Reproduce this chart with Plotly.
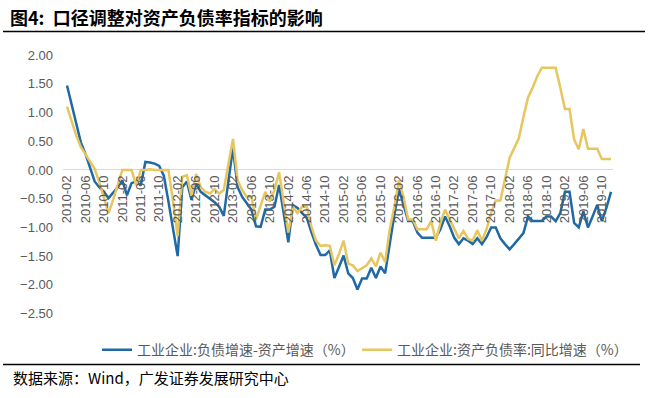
import pandas as pd
import plotly.graph_objects as go

# ---- data ----
months = pd.date_range("2010-02-01", "2019-12-01", freq="MS").strftime("%Y-%m").tolist()

debt_minus_asset = [
    1.47, 1.13, 0.80, 0.48, 0.28, 0.05, -0.20, -0.30, -0.38, -0.49,
    -0.40, -0.30, -0.18, -0.44, -0.23, -0.20, -0.27, 0.14, 0.13, 0.11,
    0.07, -0.10, -0.55, -1.02, -1.50, -0.30, -0.20, -0.52, -0.24, -0.38,
    -0.44, -0.50, -0.56, -0.64, -0.80, -0.20, 0.38, -0.30, -0.47, -0.58,
    -0.69, -0.98, -0.99, -0.69, -0.69, -0.64, -0.26, -0.75, -1.26, -0.61,
    -0.66, -0.75, -0.83, -1.08, -1.30, -1.48, -1.48, -1.40, -1.88, -1.69,
    -1.49, -1.80, -1.88, -2.08, -1.89, -1.89, -1.70, -1.88, -1.68, -1.80,
    -1.26, -0.78, -0.33, -0.62, -0.89, -0.89, -1.09, -1.18, -1.18, -1.18,
    -1.18, -1.03, -0.81, -0.98, -1.18, -1.29, -1.19, -1.23, -1.29, -1.19,
    -1.29, -1.17, -1.00, -1.00, -1.19, -1.29, -1.38, -1.29, -1.19, -1.10,
    -0.81, -0.89, -0.89, -0.89, -0.81, -0.81, -0.89, -0.75, -0.38, -0.38,
    -0.92, -1.00, -0.72, -1.00, -0.81, -0.61, -0.89, -0.66, -0.38,
]

debt_ratio_yoy = [
    1.10, 0.85, 0.60, 0.40, 0.28, 0.16, 0.02, -0.21, -0.48, -0.75,
    -0.52, -0.24, 0.00, 0.00, 0.00, -0.27, 0.00, 0.00, 0.01, 0.00,
    0.00, 0.00, 0.00, -0.55, -1.15, -0.12, -0.09, -0.45, -0.07, -0.30,
    -0.38, -0.41, -0.33, -0.41, -0.35, 0.10, 0.54, -0.18, -0.35, -0.47,
    -0.47, -0.86, -0.61, -0.38, -0.55, -0.35, -0.04, -0.55, -1.09, -0.64,
    -0.75, -0.64, -0.64, -0.98, -1.23, -1.32, -1.31, -1.32, -1.66, -1.46,
    -1.23, -1.63, -1.66, -1.76, -1.71, -1.66, -1.54, -1.68, -1.44, -1.60,
    -1.03, -0.64, -0.18, -0.47, -0.86, -0.86, -1.03, -1.03, -1.03, -0.89,
    -1.23, -0.92, -0.69, -0.86, -1.03, -1.19, -1.06, -1.20, -1.23, -1.05,
    -1.23, -1.03, -0.75, -0.53, -0.53, -0.18, 0.21, 0.38, 0.55, 0.92,
    1.26, 1.43, 1.63, 1.78, 1.78, 1.78, 1.78, 1.43, 1.06, 1.06,
    0.53, 0.36, 0.71, 0.37, 0.37, 0.37, 0.19, 0.19, 0.19,
]

series_names = ["工业企业:负债增速-资产增速（%）", "工业企业:资产负债率:同比增速（%）"]
tick_labels = months[::4]
y_ticks = [2.0, 1.5, 1.0, 0.5, 0.0, -0.5, -1.0, -1.5, -2.0, -2.5]

title_text = "<b>图4:  口径调整对资产负债率指标的影响</b>"
source_text = "数据来源：Wind，广发证券发展研究中心"

# ---- layout geometry (paper area extends below the axes so the legends sit inside it) ----
W, H = 648, 398
ML, MR, MT, MB = 63, 35, 55, 10
PW, PH = W - ML - MR, H - MT - MB
PLOT_BOTTOM = 320          # pixel row of the y = -2.5 edge
Y_MIN, Y_MAX = -2.5, 2.0
Y_DOM0 = (H - MB - PLOT_BOTTOM) / PH
X_AXIS_POS = Y_DOM0 + (1 - Y_DOM0) * (0 - Y_MIN) / (Y_MAX - Y_MIN)


def px_x(px):
    return (px - ML) / PW


def px_y(py):
    return (H - MB - py) / PH


BLUE = "#1f6aa6"
YELLOW = "#e7c55f"
GRAY_TXT = "#595959"
CJK = "Noto Sans CJK SC"
LAT = "Liberation Sans"

fig = go.Figure()
fig.add_trace(go.Scatter(x=months, y=debt_minus_asset, mode="lines", name=series_names[0],
                         line=dict(color=BLUE, width=2.5), legend="legend"))
fig.add_trace(go.Scatter(x=months, y=debt_ratio_yoy, mode="lines", name=series_names[1],
                         line=dict(color=YELLOW, width=2.5), legend="legend2"))

fig.update_layout(
    width=W, height=H,
    margin=dict(l=ML, r=MR, t=MT, b=MB),
    paper_bgcolor="white", plot_bgcolor="white",
    font=dict(family=f"{LAT}, {CJK}", size=13, color=GRAY_TXT),
    xaxis=dict(
        type="category", categoryorder="array", categoryarray=months,
        range=[-0.87, 118.43],
        tickmode="array", tickvals=tick_labels, ticktext=tick_labels,
        tickangle=-90, tickfont=dict(family=LAT, size=13, color=GRAY_TXT),
        anchor="free", position=X_AXIS_POS,
        showline=False, showgrid=False, zeroline=False, ticks="",
        ticklabelstandoff=2,
    ),
    yaxis=dict(
        domain=[Y_DOM0, 1],
        range=[Y_MIN, Y_MAX], tickmode="array", tickvals=y_ticks,
        tickformat=".2f", tickfont=dict(family=LAT, size=13, color=GRAY_TXT),
        showgrid=False, showline=False, ticks="",
        zeroline=True, zerolinecolor="#d9d9d9", zerolinewidth=1.3,
        ticklabelstandoff=9,
    ),
    legend=dict(orientation="h", xref="paper", yref="paper",
                x=px_x(97), y=px_y(357.5), xanchor="left", yanchor="middle",
                font=dict(family=CJK, size=14, color=GRAY_TXT),
                bgcolor="rgba(0,0,0,0)", borderwidth=0),
    legend2=dict(orientation="h", xref="paper", yref="paper",
                 x=px_x(357), y=px_y(357.5), xanchor="left", yanchor="middle",
                 font=dict(family=CJK, size=14, color=GRAY_TXT),
                 bgcolor="rgba(0,0,0,0)", borderwidth=0),
    showlegend=True,
)

# horizontal rules
fig.add_shape(type="line", xref="paper", yref="paper", x0=px_x(3), x1=px_x(645),
              y0=px_y(31), y1=px_y(31), layer="above", line=dict(color="#000000", width=1.5))
fig.add_shape(type="line", xref="paper", yref="paper", x0=px_x(3), x1=px_x(640),
              y0=px_y(372), y1=px_y(372), layer="above", line=dict(color="#000000", width=1.5))

# title and source text
fig.add_annotation(x=px_x(8), y=px_y(16), xref="paper", yref="paper", text=title_text,
                   showarrow=False, xanchor="left", yanchor="middle",
                   font=dict(family=CJK, size=18, color="#000000"))
fig.add_annotation(x=px_x(11), y=px_y(385), xref="paper", yref="paper", text=source_text,
                   showarrow=False, xanchor="left", yanchor="middle",
                   font=dict(family=CJK, size=15, color="#000000"))

fig.write_html("out.html", config={"displayModeBar": False},
               post_script="document.body.style.margin='0';document.body.style.overflow='hidden';")
